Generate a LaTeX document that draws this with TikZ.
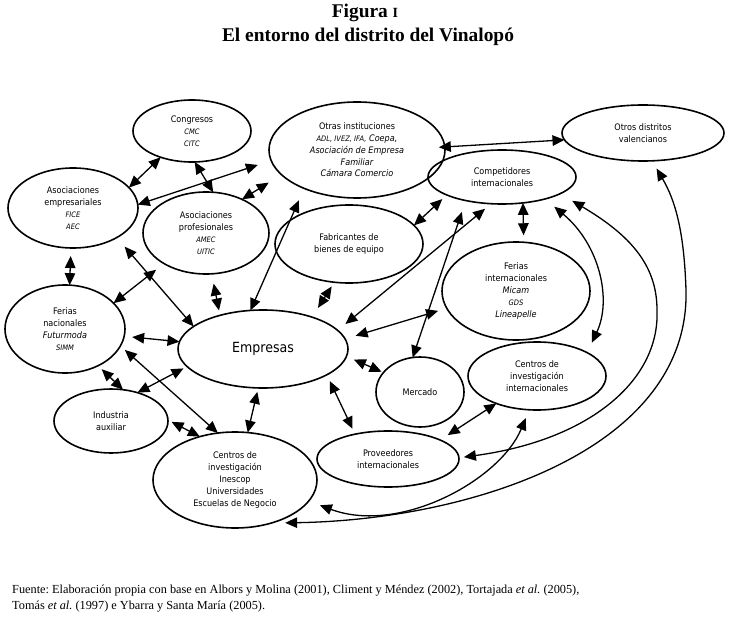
\documentclass[tikz,border=0pt]{standalone}
\usepackage{fontspec}
\setmainfont{Liberation Serif}
\newfontfamily\djv{DejaVu Sans Condensed}
\usetikzlibrary{shapes.geometric,arrows.meta}
\newcommand\smit[1]{{\fontsize{7.5}{11.5}\selectfont\itshape #1}}
\newcommand\itx[1]{{\itshape #1}}
\tikzset{
  oval/.style={draw, ellipse, line width=1.6pt, inner sep=0pt, outer sep=0pt,
    align=center, font=\djv\fontsize{9}{11.8}\selectfont},
  conn/.style={line width=1.3pt,
    {Triangle[length=12pt,width=10.5pt]}-{Triangle[length=12pt,width=10.5pt]}},
  ttl/.style={font=\fontsize{19.4}{22}\selectfont\bfseries, inner sep=0pt},
  foot/.style={font=\fontsize{12.3}{14}\selectfont\frenchspacing, inner sep=0pt, anchor=west},
}
\begin{document}
\begin{tikzpicture}[x=1pt,y=-1pt]
\fill[white] (0,0) rectangle (730,620);
\useasboundingbox (0,0) rectangle (730,620);

\node[ttl] (t1) at (365,13) {Figura {\fontsize{14}{16}\selectfont I}};
\node[ttl] (t2) at (368,37) {El entorno del distrito del Vinalopó};

\node[oval, minimum width=118pt, minimum height=62pt] (cong) at (192,131)
  {Congresos\\\smit{CMC}\\\smit{CITC}};
\node[oval, minimum width=130pt, minimum height=80pt] (asemp) at (73,208)
  {Asociaciones\\empresariales\\\smit{FICE}\\\smit{AEC}};
\node[oval, minimum width=126pt, minimum height=82pt] (asprof) at (206,233)
  {Asociaciones\\profesionales\\\smit{AMEC}\\\smit{UITIC}};
\node[oval, minimum width=176pt, minimum height=96pt] (otras) at (357,150)
  {Otras instituciones\\\smit{ADL, IVEZ, IFA,} \itx{Coepa,}\\\itx{Asociación de Empresa}\\\itx{Familiar}\\\itx{Cámara Comercio}};
\node[oval, minimum width=148pt, minimum height=54pt] (comp) at (502,177)
  {Competidores\\internacionales};
\node[oval, minimum width=162pt, minimum height=56pt] (otrosd) at (643,133)
  {Otros distritos\\valencianos};
\node[oval, minimum width=148pt, minimum height=78pt] (fab) at (349,244)
  {Fabricantes de\\bienes de equipo};
\node[oval, minimum width=148pt, minimum height=98pt] (ferint) at (516,291)
  {Ferias\\internacionales\\\itx{Micam}\\\smit{GDS}\\\itx{Lineapelle}};
\node[oval, minimum width=138pt, minimum height=68pt] (cenint) at (537,376)
  {Centros de\\investigación\\internacionales};
\node[oval, minimum width=170pt, minimum height=78pt, font=\djv\fontsize{14}{16}\selectfont] (emp) at (263,349)
  {Empresas};
\node[oval, minimum width=88pt, minimum height=70pt] (merc) at (420,392)
  {Mercado};
\node[oval, minimum width=142pt, minimum height=56pt] (prov) at (388,459)
  {Proveedores\\internacionales};
\node[oval, minimum width=164pt, minimum height=96pt] (cennac) at (235,480)
  {Centros de\\investigación\\Inescop\\Universidades\\Escuelas de Negocio};
\node[oval, minimum width=120pt, minimum height=88pt] (fernac) at (65,329)
  {Ferias\\nacionales\\\itx{Futurmoda}\\\smit{SIMM}};
\node[oval, minimum width=114pt, minimum height=64pt] (indaux) at (111,421)
  {Industria\\auxiliar};

% connectors
\draw[conn] (cong.220) -- (asemp.20);
\draw[conn] (cong.275) -- (asprof.80);
\draw[conn, shorten >=14pt] (asemp.3) -- (otras.187);
\draw[conn, shorten >=15pt] (asprof.43) -- (otras.198);
\draw[conn, shorten <=8pt] (asemp.267) -- (fernac.84);
\draw[conn, shorten <=12pt] (asemp.326) -- (emp.162);
\draw[conn, shorten >=10pt] (fernac.28) -- (asprof.216);
\draw[conn, shorten <=10pt, shorten >=5pt] (asprof.278) -- (emp.142);
\draw[conn, shorten >=13pt] (emp.108) -- (otras.216);
\draw[conn, shorten <=11pt, shorten >=5pt] (emp.33) -- (fab.249);
\draw[conn, shorten <=10pt, shorten >=8pt] (emp.14) -- (comp.248);
\draw[conn, shorten <=11pt, shorten >=9pt] (emp.7) -- (ferint.194);
\draw[conn, shorten <=8pt, shorten >=2pt] (emp.355) -- (merc.152);
\draw[conn, shorten <=7pt, shorten >=6pt] (emp.338) -- (prov.143);
\draw[conn, shorten >=6pt] (fab.16) -- (comp.198);
\draw[conn, shorten >=12pt] (merc.102) -- (comp.213);
\draw[conn, shorten >=7pt] (comp.309) -- (ferint.81);
\draw[conn, shorten <=12pt, shorten >=11pt] (comp.333) .. controls (600,245) and (612,300) .. (cenint.25);
\draw[conn, shorten <=14pt, shorten >=5pt] (comp.344) .. controls (630,235) and (657,265) .. (657,310)
   .. controls (660,380) and (590,440) .. (prov.1);
\draw[conn, shorten <=-6pt] (otras.2) -- (otrosd.185);
\draw[conn, shorten <=9pt] (prov.20) -- (cenint.214);
\draw[conn, shorten <=12pt, shorten >=9pt] (cennac.344) .. controls (400,535) and (500,480) .. (cenint.257);
\draw[conn, shorten <=14pt, shorten >=9pt] (cennac.310) .. controls (470,520) and (690,450) .. (686,290)
   .. controls (684,230) and (675,200) .. (otrosd.288);
\draw[conn, shorten <=8pt] (fernac.353) -- (emp.175);
\draw[conn, shorten <=5pt] (fernac.312) -- (indaux.69);
\draw[conn, shorten >=4pt] (indaux.47) -- (emp.193);
\draw[conn, shorten <=6pt] (fernac.343) -- (cennac.110);
\draw[conn, shorten <=4pt] (indaux.1) -- (cennac.129);
\draw[conn, shorten <=4pt] (emp.263) -- (cennac.75);

\node[foot] (f1) at (12,591) {Fuente: Elaboración propia con base en Albors y Molina (2001), Climent y Méndez (2002), Tortajada \textit{et al.} (2005),};
\node[foot] (f2) at (12,607) {Tomás \textit{et al.} (1997) e Ybarra y Santa María (2005).};
\end{tikzpicture}
\end{document}
